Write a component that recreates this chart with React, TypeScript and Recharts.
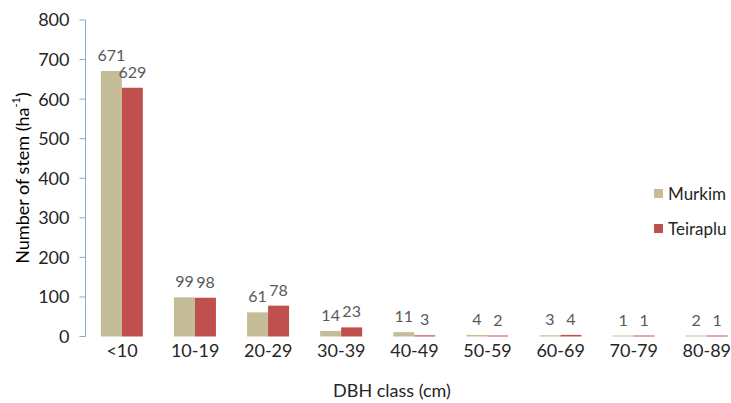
import { Bar, BarChart, Label, LabelList, XAxis, YAxis } from "recharts";

const dbhClasses = ["<10", "10-19", "20-29", "30-39", "40-49", "50-59", "60-69", "70-79", "80-89"];
const murkim = [671, 99, 61, 14, 11, 4, 3, 1, 2];
const teiraplu = [629, 98, 78, 23, 3, 2, 4, 1, 1];
const yTicks = [0, 100, 200, 300, 400, 500, 600, 700, 800];

const seriesColors = { murkim: "#C4BD97", teiraplu: "#C0504D" };

const data = dbhClasses.map((dbh, i) => ({ dbh, murkim: murkim[i], teiraplu: teiraplu[i] }));

function LegendBox() {
  const items = [
    { name: "Murkim", color: seriesColors.murkim },
    { name: "Teiraplu", color: seriesColors.teiraplu },
  ];
  return (
    <div style={{ position: "absolute", left: 654, top: 176 }}>
      {items.map((it) => (
        <div key={it.name} style={{ display: "flex", alignItems: "center", height: 35, color: "#262626", fontSize: 17 }}>
          <span style={{ width: 9, height: 9, background: it.color, marginRight: 5, display: "inline-block" }} />
          {it.name}
        </div>
      ))}
    </div>
  );
}

export default function App() {
  return (
    <div
      style={{
        position: "absolute",
        left: 0,
        top: 0,
        width: 731,
        height: 403,
        overflow: "hidden",
        background: "#fff",
        fontFamily: "Lato, 'Liberation Sans', sans-serif",
      }}
    >
      <BarChart
        width={760}
        height={403}
        data={data}
        margin={{ top: 20, right: 16.6, left: 25.5, bottom: 36.5 }}
        barCategoryGap="21%"
        barGap={0}
      >
        <XAxis
          dataKey="dbh"
          axisLine={false}
          tickLine={false}
          height={30}
          tick={{ fill: "#262626", fontSize: 18 }}
          interval={0}
        >
          <Label
            content={() => (
              <text x={392} y={397} textAnchor="middle" fill="#262626" fontSize={18}>
                DBH class (cm)
              </text>
            )}
          />
        </XAxis>
        <YAxis
          width={60}
          domain={[0, 800]}
          ticks={yTicks}
          axisLine={{ stroke: "#86A9D9" }}
          tickLine={{ stroke: "#86A9D9" }}
          tickSize={6}
          tickMargin={10}
          tick={{ fill: "#262626", fontSize: 18 }}
        >
          <Label
            content={() => (
              <text x={22} y={178} transform="rotate(-90 22 178)" textAnchor="middle" dominantBaseline="central" fill="#000" fontSize={18}>
                Number of stem (ha
                <tspan dy={-7} fontSize={11}>-1</tspan>
                <tspan dy={7}>)</tspan>
              </text>
            )}
          />
        </YAxis>
        <Bar dataKey="murkim" name="Murkim" fill={seriesColors.murkim} minPointSize={1} isAnimationActive={false}>
          <LabelList dataKey="murkim" position="top" offset={10} fill="#595959" fontSize={16} />
        </Bar>
        <Bar dataKey="teiraplu" name="Teiraplu" fill={seriesColors.teiraplu} minPointSize={1} isAnimationActive={false}>
          <LabelList dataKey="teiraplu" position="top" offset={10} fill="#595959" fontSize={16} />
        </Bar>
      </BarChart>
      <LegendBox />
    </div>
  );
}
